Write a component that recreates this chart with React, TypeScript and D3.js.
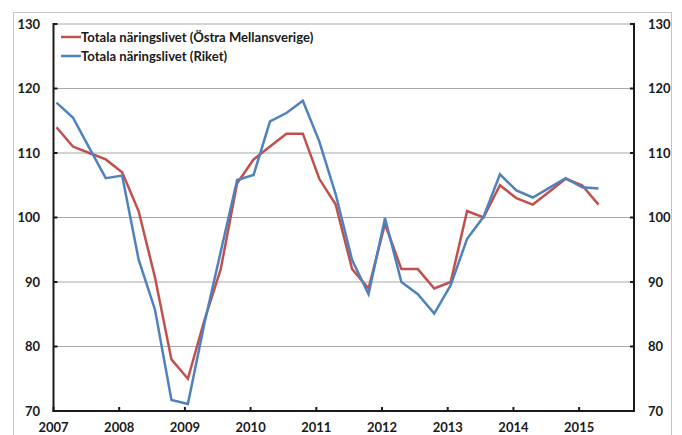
import React from "react";
import * as d3 from "d3";

const seriesNames = [
  "Totala näringslivet (Östra Mellansverige)",
  "Totala näringslivet (Riket)",
];
const seriesColors = ["#C0504D", "#4F81BD"];

// quarterly observations, 2007 Q1 .. 2015 Q2
const quarters = Array.from({ length: 34 }, (_, i) => `${2007 + Math.floor(i / 4)}K${(i % 4) + 1}`);

const ostraMellansverige = [
  114, 111, 110, 109, 107, 101, 90.7, 78, 75, 84, 92, 105.3,
  109, 111, 113, 113, 106, 102, 92, 89, 99, 92, 92, 89,
  90, 101, 100, 105, 103, 102, 104, 106, 105, 102,
];
const riket = [
  117.8, 115.5, 110.8, 106.1, 106.5, 93.5, 85.7, 71.7, 71.1, 83.5, 94.7, 105.8,
  106.6, 114.9, 116.2, 118.1, 111.8, 103.6, 93.4, 88.1, 99.9, 90, 88.1, 85.1,
  89.5, 96.7, 100.1, 106.7, 104.2, 103.1, 104.6, 106.1, 104.7, 104.5,
];
const yearTicks = [2007, 2008, 2009, 2010, 2011, 2012, 2013, 2014, 2015];
const valueTicks = [70, 80, 90, 100, 110, 120, 130];

const W = 682;
const H = 435;
const M = { left: 53.5, right: 634, top: 24, bottom: 411 };

function quarterToYear(q: string): number {
  const [y, k] = q.split("K").map(Number);
  return y + 0.045 + (k - 1) * 0.25;
}

export default function App() {
  const x = d3.scaleLinear().domain([2007, 2015.835]).range([M.left, M.right]);
  const y = d3.scaleLinear().domain([70, 130]).range([M.bottom, M.top]);
  const line = d3
    .line<[number, number]>()
    .x((d) => x(d[0]))
    .y((d) => y(d[1]));
  const series = [ostraMellansverige, riket].map((vals) =>
    vals.map((v, i) => [quarterToYear(quarters[i]), v] as [number, number])
  );
  const font = "Lato, 'DejaVu Sans', sans-serif";
  const axisColor = "#1a1a1a";

  return (
    <svg
      width={W}
      height={H}
      style={{ position: "absolute", left: 0, top: 0, background: "#fff" }}
      fontFamily={font}
      fontWeight="bold"
    >
      <rect x={13.5} y={12.5} width={658} height={H + 20} fill="#fff" stroke="#c4c4c4" strokeWidth={1} />
      {valueTicks
        .filter((v) => v > 70)
        .map((v) => (
          <line key={v} x1={M.left} x2={M.right} y1={y(v)} y2={y(v)} stroke="#a8a8a8" strokeWidth={1} />
        ))}
      {/* axes */}
      <line x1={M.left} x2={M.left} y1={M.top - 1} y2={M.bottom + 1} stroke={axisColor} strokeWidth={2} />
      <line x1={M.right} x2={M.right} y1={M.top - 1} y2={M.bottom + 1} stroke={axisColor} strokeWidth={2} />
      <line x1={M.left - 1} x2={M.right + 1} y1={M.bottom} y2={M.bottom} stroke={axisColor} strokeWidth={2} />
      {valueTicks.map((v) => (
        <g key={v}>
          <line x1={M.left} x2={M.left + 4} y1={y(v)} y2={y(v)} stroke={axisColor} strokeWidth={2} />
          <line x1={M.right - 4} x2={M.right} y1={y(v)} y2={y(v)} stroke={axisColor} strokeWidth={2} />
          <text x={40} y={y(v)} dy="0.36em" textAnchor="end" fontSize={13} fill="#1a1a1a">
            {v}
          </text>
          <text x={648} y={y(v)} dy="0.36em" textAnchor="start" fontSize={13} fill="#1a1a1a">
            {v}
          </text>
        </g>
      ))}
      {yearTicks.map((t) => (
        <g key={t}>
          <line x1={x(t)} x2={x(t)} y1={M.bottom} y2={M.bottom - 4} stroke={axisColor} strokeWidth={2} />
          <text x={x(t)} y={432} textAnchor="middle" fontSize={13} fill="#1a1a1a">
            {t}
          </text>
        </g>
      ))}
      {series.map((s, i) => (
        <path
          key={i}
          d={line(s) || ""}
          fill="none"
          stroke={seriesColors[i]}
          strokeWidth={2.5}
          strokeLinejoin="miter"
        />
      ))}
      {/* legend */}
      {seriesNames.map((n, i) => (
        <g key={n} transform={`translate(61, ${37 + i * 19})`}>
          <line x1={0} x2={20} y1={0} y2={0} stroke={seriesColors[i]} strokeWidth={2.5} />
          <text x={20} y={0} dy="0.36em" fontSize={13.1} fill="#1a1a1a">
            {n}
          </text>
        </g>
      ))}
    </svg>
  );
}
